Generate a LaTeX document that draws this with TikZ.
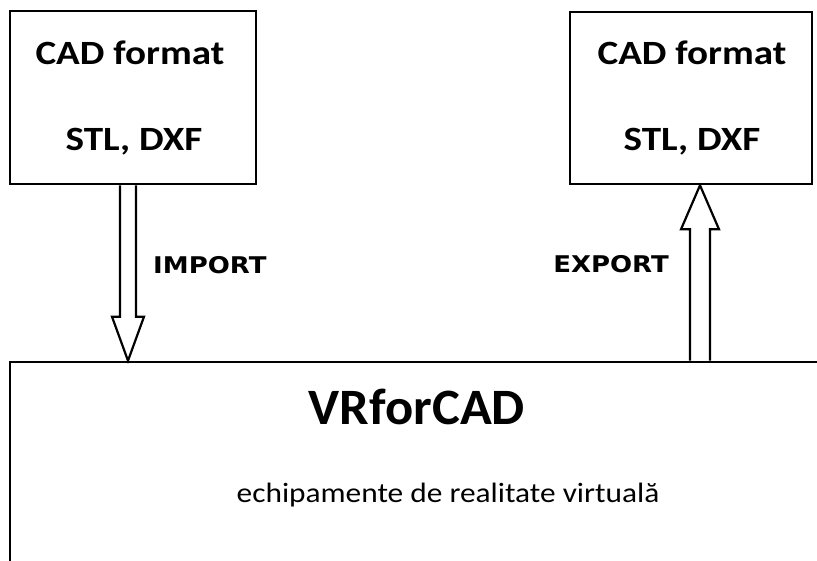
\documentclass[tikz,border=0pt]{standalone}
\usepackage{fontspec}
\setmainfont{Carlito}
\newfontfamily\labfont{DejaVu Sans}
\usetikzlibrary{calc}
\begin{document}
\begin{tikzpicture}[x=1pt,y=-1pt,
  box/.style={draw=black,line width=2.6pt,fill=white,inner sep=0pt},
  blockarrow/.style={draw=black,line width=2.2pt,line join=miter,fill=white},
  captxt/.style={font=\bfseries\fontsize{34}{36}\selectfont,inner sep=0pt,xscale=1.15},
  arrtxt/.style={font=\labfont\bfseries\fontsize{23}{26}\selectfont,inner sep=0pt,xscale=1.13}]
\clip (0,0) rectangle (817,560);
\fill[white] (0,0) rectangle (817,560);
% boxes
\node[box,minimum width=246pt,minimum height=173pt] (L) at (133,97.5) {};
\node[box,minimum width=242pt,minimum height=172pt] (R) at (691,98) {};
\node[box,minimum width=830pt,minimum height=230pt] (B) at (425,477) {};
% texts
\node[captxt] (Lt1) at (130,53) {CAD format};
\node[captxt] (Lt2) at (134,142) {STL, DXF};
\node[captxt] (Rt1) at (692,53) {CAD format};
\node[captxt] (Rt2) at (692,142) {STL, DXF};
\node[font=\bfseries\fontsize{51}{56}\selectfont,inner sep=0pt,xscale=1.03] (Bt1) at (417,407) {VRforCAD};
\node[font=\fontsize{28}{32}\selectfont,inner sep=0pt,xscale=1.12] (Bt2) at (448,495) {echipamente de realitate virtuală};
% connector anchors
\coordinate (ximp) at (128,0);
\coordinate (xexp) at (700,0);
\coordinate (impS) at (L.south -| ximp);
\coordinate (impE) at (B.north -| ximp);
\coordinate (expE) at (R.south -| xexp);
\coordinate (expS) at (B.north -| xexp);
% import arrow (down)
\draw[blockarrow] ([xshift=-8pt]impS) -- ([xshift=-8pt,yshift=44pt]impE) -- ([xshift=-16pt,yshift=44pt]impE)
  -- (impE) -- ([xshift=16pt,yshift=44pt]impE) -- ([xshift=8pt,yshift=44pt]impE) -- ([xshift=8pt]impS);
% export arrow (up)
\draw[blockarrow] ([xshift=-10pt]expS) -- ([xshift=-10pt,yshift=-44pt]expE) -- ([xshift=-19pt,yshift=-44pt]expE)
  -- (expE) -- ([xshift=19pt,yshift=-44pt]expE) -- ([xshift=10pt,yshift=-44pt]expE) -- ([xshift=10pt]expS);
\node[arrtxt,anchor=west] (imp) at (153,265) {IMPORT};
\node[arrtxt,anchor=east] (exp) at (669,264) {EXPORT};
\end{tikzpicture}
\end{document}
